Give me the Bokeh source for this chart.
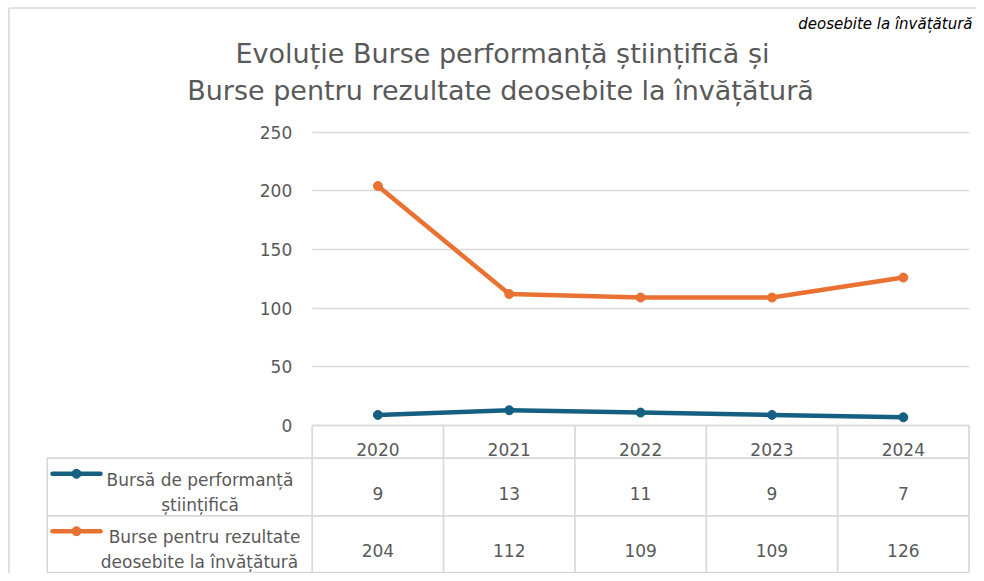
from bokeh.plotting import figure
from bokeh.models import Range1d, LinearAxis, FixedTicker, Grid
from bokeh.core.properties import value
from bokeh.embed import file_html
from bokeh.resources import INLINE

# ---------------- data ----------------
years = ["2020", "2021", "2022", "2023", "2024"]
bursa_performanta = [9, 13, 11, 9, 7]
burse_rezultate = [204, 112, 109, 109, 126]
series_values = [bursa_performanta, burse_rezultate]
series_labels = [
    ["Bursă de performanță", "științifică"],
    ["Burse pentru rezultate", "deosebite la învățătură"],
]
series_colors = ["#156082", "#E97132"]
y_ticks = [0, 50, 100, 150, 200, 250]
title_lines = [
    "Evoluție Burse performanță științifică și",
    "Burse pentru rezultate deosebite la învățătură",
]
header_fragment = "deosebite la învățătură"

# ---------------- layout (screen pixels) ----------------
W, H = 976, 573
PL, PR = 311.7, 968.5      # plot area left / right
PT, PB = 131.5, 425.0      # plot area top (250) / bottom (0)
Y_MAX = 250
n = len(years)
ux = (PR - PL) / n
uy = (PB - PT) / Y_MAX

x_start = (0 - PL) / ux - 0.5
x_end = (W - PL) / ux - 0.5
y_start = (PB - H) / uy
y_end = PB / uy

FONT = "DejaVu Sans"
TXT = "#595959"
LINEC = "#D9D9D9"
TICK_FS = "17px"
TITLE_FS = "27px"

p = figure(width=W, height=H,
           x_range=Range1d(x_start, x_end), y_range=Range1d(y_start, y_end),
           output_backend="svg", toolbar_location=None,
           x_axis_location=None, y_axis_location=None, title=None,
           min_border=0, outline_line_color=None,
           background_fill_color="white", border_fill_color="white")
p.extra_x_ranges = {"px": Range1d(0, W)}
p.extra_y_ranges = {"px": Range1d(H, 0)}
p.center = []

# ---------------- gridlines ----------------
grid = Grid(dimension=1, ticker=FixedTicker(ticks=y_ticks),
            grid_line_color=LINEC, grid_line_width=1.3)
if "cross_bounds" in Grid.properties():
    grid.cross_bounds = (-0.5, n - 0.5)
    p.add_layout(grid, "center")
else:
    p.segment(x0=[-0.5] * len(y_ticks), x1=[n - 0.5] * len(y_ticks),
              y0=y_ticks, y1=y_ticks, line_color=LINEC, line_width=1.3)

# ---------------- y axis ----------------
yaxis = LinearAxis(ticker=FixedTicker(ticks=y_ticks), fixed_location=-0.5,
                   axis_line_color=None, major_tick_line_color=None,
                   minor_tick_line_color=None, major_tick_in=0, major_tick_out=0,
                   major_label_standoff=20, major_label_text_color=TXT,
                   major_label_text_font=FONT, major_label_text_font_size=TICK_FS)
p.add_layout(yaxis, "left")

# ---------------- heading fragment at the top right ----------------
p.text(x=[972.0], y=[23.0], text=[header_fragment], x_range_name="px", y_range_name="px",
       text_font=value(FONT), text_font_size="15px", text_font_style="italic",
       text_color="#000000", text_align="right", text_baseline="alphabetic")

# ---------------- chart border ----------------
BX, BY = 8.5, 7.5
p.segment(x0=[BX, BX], y0=[BY, BY], x1=[BX, W], y1=[H, BY],
          x_range_name="px", y_range_name="px",
          line_color=LINEC, line_width=1.6)

# ---------------- data table ----------------
TBL_L = 46.7
ROW_Y = [425.0, 457.7, 515.3, 572.0]
p.segment(x0=[PL] + [TBL_L] * 3, x1=[PR] * 4, y0=ROW_Y, y1=ROW_Y,
          x_range_name="px", y_range_name="px", line_color=LINEC, line_width=1.7)
p.segment(x0=[TBL_L], x1=[TBL_L], y0=[ROW_Y[1]], y1=[ROW_Y[3]],
          x_range_name="px", y_range_name="px", line_color=LINEC, line_width=1.7)
bx = [k - 0.5 for k in range(n + 1)]
p.segment(x0=bx, x1=bx, y0=[ROW_Y[0]] * len(bx), y1=[ROW_Y[3]] * len(bx),
          y_range_name="px", line_color=LINEC, line_width=1.7)

xs = list(range(n))
text_kw = dict(text_font=value(FONT), text_font_size=TICK_FS, text_color=TXT,
               text_align="center", text_baseline="alphabetic")
p.text(x=xs, y=[449.0] * n, text=years, y_range_name="px", **text_kw)
VAL_BASE = [493.3, 550.0]
for vals, yb in zip(series_values, VAL_BASE):
    p.text(x=xs, y=[yb] * n, text=[str(v) for v in vals], y_range_name="px", **text_kw)

KEY_Y = [473.3, 530.7]
LBL_BASE = [[479.3, 504.3], [536.7, 561.0]]
LBL_X = [[199.5, 199.5], [204.0, 199.0]]
for col, ky, lines, bases, lx in zip(series_colors, KEY_Y, series_labels, LBL_BASE, LBL_X):
    p.segment(x0=[52.0], x1=[100.0], y0=[ky], y1=[ky], x_range_name="px", y_range_name="px",
              line_color=col, line_width=4.5, line_cap="round")
    p.scatter(x=[76.0], y=[ky], x_range_name="px", y_range_name="px",
              size=9, fill_color=col, line_color=col)
    p.text(x=lx, y=bases, text=lines, x_range_name="px", y_range_name="px", **text_kw)

# ---------------- series ----------------
for vals, col in zip(series_values, series_colors):
    p.line(xs, vals, line_color=col, line_width=4.5, line_join="round", line_cap="round")
    p.scatter(xs, vals, size=9, fill_color=col, line_color=col)

# ---------------- title ----------------
p.text(x=[502.0, 500.0], y=[53.3, 89.5], text=title_lines,
       x_range_name="px", y_range_name="px",
       text_font=value(FONT), text_font_size=TITLE_FS, text_color=TXT,
       text_align="center", text_baseline="alphabetic")

with open("out.html", "w", encoding="utf-8") as f:
    f.write(file_html(p, INLINE))
